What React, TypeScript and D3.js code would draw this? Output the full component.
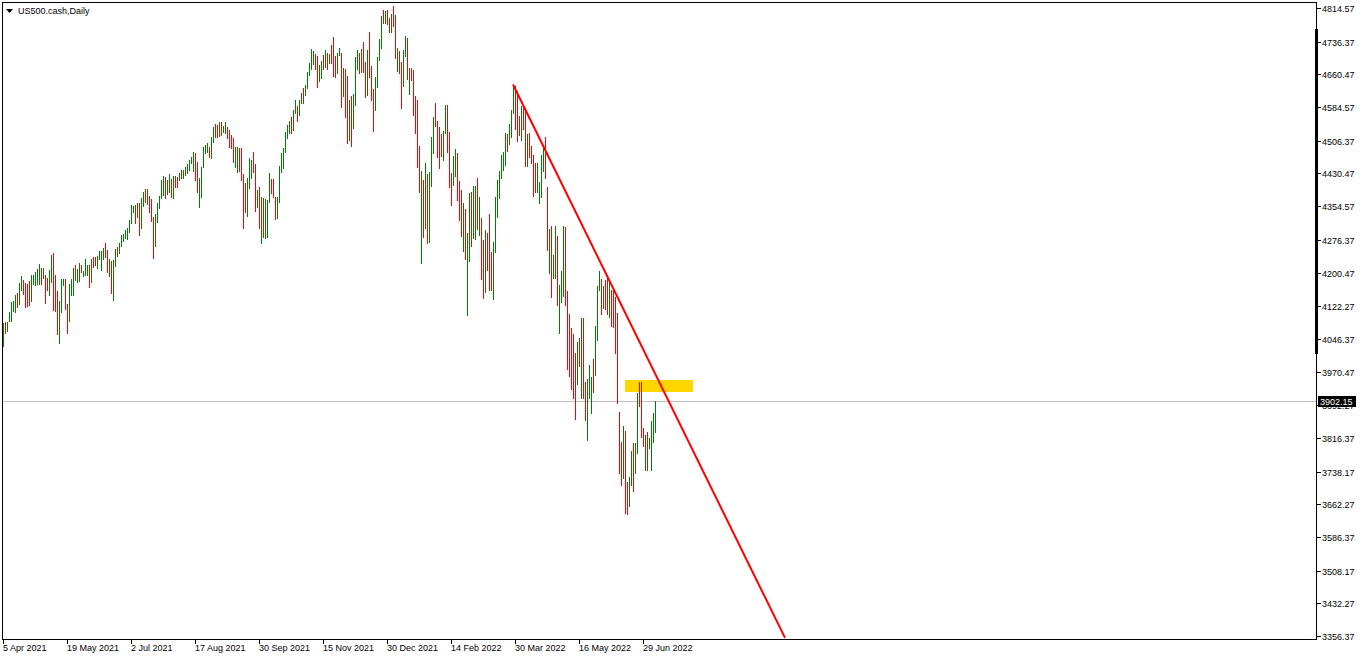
import * as d3 from 'd3';

// daily bars, US500.cash, 5 Apr 2021 .. 7 Jul 2022 (bar index = position on the time axis)
const highs = [
  4084, 4085, 4085, 4109, 4133, 4134, 4148, 4154, 4177, 4192,
  4183, 4177, 4175, 4181, 4195, 4195, 4202, 4208, 4220, 4212,
  4210, 4195, 4187, 4206, 4241, 4245, 4195, 4157, 4135, 4185,
  4185, 4185, 4127, 4174, 4185, 4212, 4218, 4208, 4223, 4219,
  4205, 4233, 4218, 4218, 4233, 4237, 4236, 4239, 4250, 4251,
  4257, 4268, 4253, 4233, 4228, 4229, 4255, 4259, 4270, 4287,
  4290, 4300, 4305, 4322, 4357, 4355, 4357, 4361, 4363, 4373,
  4388, 4395, 4395, 4378, 4371, 4330, 4337, 4361, 4378, 4415,
  4425, 4422, 4415, 4429, 4417, 4425, 4425, 4422, 4432, 4439,
  4439, 4445, 4453, 4462, 4468, 4481, 4477, 4458, 4419, 4445,
  4491, 4497, 4501, 4493, 4516, 4539, 4545, 4543, 4549, 4551,
  4540, 4549, 4539, 4532, 4520, 4512, 4493, 4491, 4489, 4489,
  4429, 4408, 4419, 4466, 4462, 4481, 4452, 4391, 4398, 4377,
  4373, 4371, 4369, 4432, 4418, 4418, 4377, 4377, 4448, 4479,
  4489, 4528, 4543, 4553, 4562, 4578, 4600, 4587, 4601, 4618,
  4630, 4636, 4667, 4686, 4719, 4716, 4708, 4703, 4682, 4692,
  4706, 4717, 4711, 4708, 4729, 4747, 4703, 4711, 4723, 4711,
  4675, 4672, 4657, 4600, 4610, 4615, 4702, 4717, 4711, 4719,
  4737, 4690, 4717, 4758, 4680, 4626, 4655, 4700, 4742, 4796,
  4810, 4809, 4810, 4791, 4802, 4819, 4799, 4723, 4716, 4690,
  4717, 4750, 4744, 4675, 4675, 4671, 4610, 4601, 4494, 4436,
  4415, 4454, 4429, 4435, 4516, 4562, 4595, 4553, 4539, 4522,
  4530, 4590, 4590, 4528, 4431, 4471, 4487, 4477, 4414, 4392,
  4361, 4347, 4293, 4386, 4388, 4401, 4401, 4419, 4375, 4326,
  4276, 4299, 4293, 4336, 4247, 4272, 4377, 4415, 4437, 4473,
  4481, 4524, 4522, 4545, 4579, 4636, 4634, 4623, 4563, 4587,
  4587, 4576, 4522, 4525, 4494, 4473, 4456, 4456, 4411, 4473,
  4491, 4515, 4400, 4301, 4309, 4241, 4309, 4285, 4172, 4203,
  4309, 4306, 4158, 4104, 4071, 4058, 4013, 4040, 4048, 4094,
  4096, 3947, 3953, 3986, 3957, 3999, 4076, 4169, 4205, 4185,
  4169, 4182, 4195, 4185, 4161, 4161, 4143, 4106, 3877, 3808,
  3843, 3833, 3713, 3725, 3785, 3804, 3804, 3920, 3947, 3947,
  3839, 3823, 3831, 3816, 3856, 3875, 3903,
];

const lows = [
  4030, 4061, 4065, 4089, 4089, 4112, 4109, 4121, 4127, 4161,
  4150, 4120, 4123, 4126, 4135, 4174, 4171, 4175, 4175, 4175,
  4187, 4129, 4160, 4148, 4179, 4113, 4111, 4058, 4036, 4109,
  4171, 4115, 4061, 4089, 4148, 4148, 4183, 4179, 4181, 4202,
  4193, 4195, 4195, 4168, 4179, 4214, 4218, 4212, 4231, 4206,
  4233, 4237, 4202, 4192, 4152, 4137, 4215, 4239, 4246, 4262,
  4274, 4280, 4278, 4295, 4315, 4342, 4315, 4330, 4288, 4303,
  4354, 4365, 4360, 4340, 4320, 4234, 4261, 4317, 4350, 4373,
  4381, 4373, 4384, 4388, 4375, 4373, 4398, 4400, 4415, 4419,
  4419, 4427, 4431, 4439, 4454, 4437, 4415, 4387, 4352, 4375,
  4446, 4479, 4481, 4468, 4466, 4504, 4516, 4516, 4518, 4520,
  4528, 4524, 4512, 4491, 4489, 4458, 4446, 4435, 4437, 4415,
  4305, 4340, 4332, 4396, 4419, 4433, 4344, 4352, 4303, 4270,
  4282, 4280, 4282, 4365, 4386, 4377, 4325, 4326, 4365, 4435,
  4444, 4481, 4514, 4524, 4525, 4531, 4570, 4553, 4566, 4595,
  4595, 4613, 4628, 4659, 4672, 4685, 4672, 4632, 4646, 4652,
  4672, 4677, 4672, 4688, 4688, 4657, 4655, 4663, 4706, 4584,
  4610, 4562, 4502, 4508, 4494, 4535, 4590, 4673, 4665, 4667,
  4667, 4609, 4613, 4654, 4600, 4530, 4578, 4632, 4694, 4723,
  4781, 4781, 4778, 4760, 4758, 4773, 4698, 4669, 4663, 4582,
  4634, 4703, 4649, 4614, 4648, 4566, 4525, 4445, 4388, 4222,
  4284, 4303, 4270, 4272, 4401, 4477, 4541, 4468, 4444, 4470,
  4462, 4524, 4481, 4400, 4357, 4404, 4425, 4369, 4322, 4285,
  4251, 4233, 4102, 4228, 4261, 4280, 4278, 4301, 4288, 4185,
  4141, 4156, 4206, 4161, 4160, 4138, 4247, 4330, 4373, 4419,
  4439, 4450, 4483, 4500, 4516, 4572, 4533, 4507, 4520, 4508,
  4533, 4448, 4448, 4468, 4456, 4378, 4388, 4388, 4361, 4377,
  4437, 4420, 4253, 4200, 4143, 4187, 4187, 4124, 4061, 4133,
  4146, 4125, 3976, 3960, 3929, 3908, 3860, 3942, 3984, 3908,
  3908, 3858, 3812, 3908, 3874, 3922, 3963, 4044, 4160, 4104,
  4117, 4115, 4104, 4097, 4076, 4073, 4014, 3897, 3736, 3707,
  3723, 3641, 3640, 3658, 3707, 3692, 3734, 3781, 3891, 3819,
  3798, 3742, 3742, 3792, 3742, 3808, 3831,
];

// u = bull bar, d = bear bar
const dirs =
  'uduuuuuduu' + 'dddduuuuud' + 'udduuddduu' + 'udduuuduud' + 'uuududduuu' +
  'udduduuduu' + 'uuuuuududu' + 'ududdduuuu' + 'uduududduu' + 'duuuuudduu' +
  'uuuduuddud' + 'uudddduudd' + 'dduuuddudu' + 'duuuddduuu' + 'uuuuduuduu' +
  'duuuuudduu' + 'dududdduud' + 'udduduuudu' + 'dduddduuuu' + 'dudduddudd' +
  'uududddddu' + 'duduuudddd' + 'uuddduuddd' + 'uduuduudud' + 'duddduuuuu' +
  'uuduuudddu' + 'ddudddduuu' + 'udduduuduu' + 'uddddddudu' + 'dduuuduuud' +
  'uddudddddd' + 'udduuduudd' + 'duduuuu';

const priceTicks = [
  4814.57, 4736.37, 4660.47, 4584.57, 4506.37, 4430.47, 4354.57, 4276.37, 4200.47, 4122.27,
  4046.37, 3970.47, 3892.27, 3816.37, 3738.17, 3662.27, 3586.37, 3508.17, 3432.27, 3356.37,
];

const dateTickBars = [0, 32, 64, 96, 128, 160, 192, 224, 256, 288, 320];
const dateTickLabels = [
  '5 Apr 2021', '19 May 2021', '2 Jul 2021', '17 Aug 2021', '30 Sep 2021', '15 Nov 2021',
  '30 Dec 2021', '14 Feb 2022', '30 Mar 2022', '16 May 2022', '29 Jun 2022',
];

const lastPrice = 3902.15;
const trendBars = [255, 391];
const trendPrices = [4637, 3352];
const zoneBars = [311, 345];
const zonePrices = [3923, 3951];

const FONT = '"Liberation Sans", Arial, sans-serif';

export default function App() {
  const width = 1362;
  const height = 660;
  const plot = { left: 2, right: 1316, top: 2, bottom: 639 };

  const x = d3.scaleLinear().domain([-0.5, 656.5]).range([plot.left, plot.right]);
  const y = d3.scaleLinear().domain([3349.4, 4828.75]).range([plot.bottom, plot.top]);

  const trend = d3
    .line<number>()
    .x((b) => x(b))
    .y((_, i) => y(trendPrices[i]))(trendBars);

  const lastY = Math.round(y(lastPrice)) + 0.5;

  return (
    <svg
      width={width}
      height={height}
      style={{ position: 'absolute', left: 0, top: 0, background: '#fff' }}
      fontFamily={FONT}
    >
      <defs>
        <clipPath id="plot">
          <rect x={plot.left} y={plot.top} width={plot.right - plot.left} height={plot.bottom - plot.top} />
        </clipPath>
      </defs>

      {/* current price line */}
      <line x1={plot.left} x2={plot.right} y1={lastY} y2={lastY} stroke="#c0c0c0" strokeWidth={1} />

      {/* zone */}
      <rect
        x={x(zoneBars[0])}
        y={y(zonePrices[1])}
        width={x(zoneBars[1]) - x(zoneBars[0])}
        height={y(zonePrices[0]) - y(zonePrices[1])}
        fill="#ffd700"
      />

      {/* bars */}
      <g shapeRendering="crispEdges">
        {highs.map((h, i) => {
          const top = Math.round(y(h));
          const bottom = Math.round(y(lows[i]));
          return (
            <rect
              key={i}
              x={x(i)}
              y={top}
              width={1}
              height={Math.max(1, bottom - top + 1)}
              fill={dirs[i] === 'u' ? '#008000' : '#ff0000'}
            />
          );
        })}
      </g>

      {/* trend line */}
      <path d={trend ?? ''} clipPath="url(#plot)" fill="none" stroke="#ff0000" strokeWidth={2} />

      {/* frame */}
      <g shapeRendering="crispEdges" stroke="#000" strokeWidth={1}>
        <line x1={plot.left + 0.5} x2={plot.left + 0.5} y1={plot.top} y2={plot.bottom + 1} />
        <line x1={plot.left} x2={plot.right + 1} y1={plot.top + 0.5} y2={plot.top + 0.5} />
        <line x1={plot.right + 0.5} x2={plot.right + 0.5} y1={plot.top} y2={plot.bottom + 1} />
        <line x1={plot.left} x2={plot.right + 1} y1={plot.bottom + 0.5} y2={plot.bottom + 0.5} />
      </g>
      <rect x={plot.right - 1} y={29} width={3} height={325} fill="#000" />

      {/* price axis */}
      {priceTicks.map((p) => {
        const ty = Math.round(y(p)) + 0.5;
        return (
          <g key={p}>
            <line x1={plot.right + 1} x2={plot.right + 5} y1={ty} y2={ty} stroke="#000" shapeRendering="crispEdges" />
            <text x={1322} y={ty} dy="0.35em" fontSize={9} fill="#000">
              {p.toFixed(2)}
            </text>
          </g>
        );
      })}
      <rect x={1318} y={lastY - 5.5} width={38} height={11} fill="#000" />
      <text x={1320} y={lastY} dy="0.35em" fontSize={9} fill="#fff">
        {lastPrice.toFixed(2)}
      </text>

      {/* time axis */}
      {dateTickBars.map((b, k) => {
        const tx = x(b) + 0.5;
        return (
          <g key={b}>
            <line x1={tx} x2={tx} y1={plot.bottom + 1} y2={plot.bottom + 5} stroke="#000" shapeRendering="crispEdges" />
            <text x={x(b)} y={648} dy="0.35em" fontSize={9} fill="#000">
              {dateTickLabels[k]}
            </text>
          </g>
        );
      })}

      {/* title */}
      <path d="M6,9 L13,9 L9.5,13 Z" fill="#000" />
      <text x={18} y={11} dy="0.35em" fontSize={9} fill="#000">
        US500.cash,Daily
      </text>
    </svg>
  );
}
